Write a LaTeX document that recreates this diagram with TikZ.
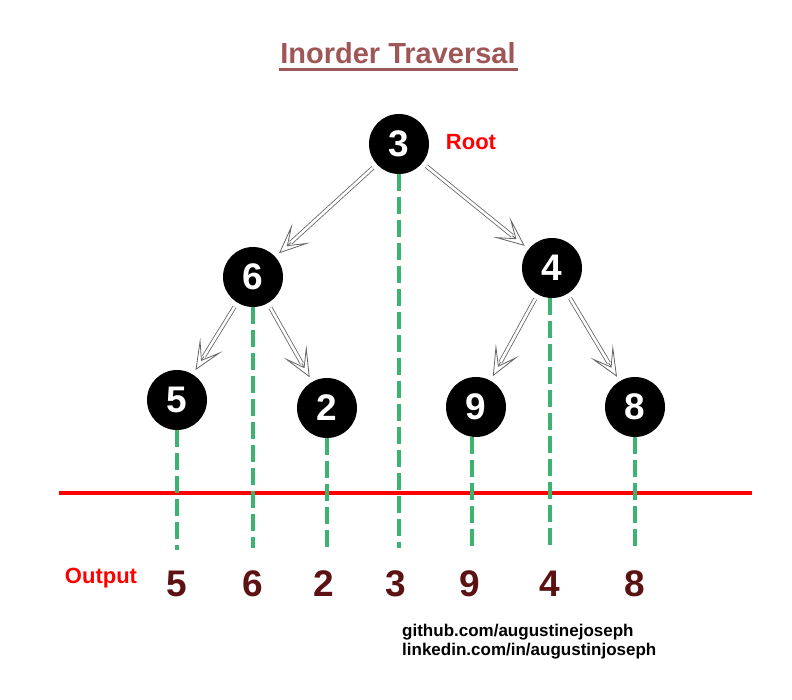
\documentclass[tikz,border=0pt]{standalone}
\usepackage{fontspec}
\setmainfont{Liberation Sans}
\usetikzlibrary{arrows.meta}
\definecolor{titlecol}{RGB}{158,86,86}
\definecolor{outcol}{RGB}{92,18,18}
\definecolor{dashgreen}{RGB}{60,179,113}
\definecolor{arrowgray}{RGB}{100,100,100}
\newcommand\mytreearrow[2]{%
  \draw[tiphead] (#1) -- (#2);
  \draw[tipshaft] (#1) -- (#2);}
\begin{document}
\begin{tikzpicture}[x=1pt,y=-1pt,
  tnode/.style={circle,fill=black,minimum size=60pt,inner sep=0pt,text=white,font=\fontsize{37}{37}\selectfont\bfseries},
  outnum/.style={text=outcol,font=\fontsize{37}{37}\selectfont\bfseries},
  redlabel/.style={text=red,font=\fontsize{22}{22}\selectfont\bfseries},
  footer/.style={font=\fontsize{17}{19}\selectfont\bfseries,align=left,anchor=north west,inner sep=0pt},
  tiphead/.style={draw=arrowgray,line width=0.8pt,
    -{Stealth[open,fill=white,length=30pt,width=26pt,inset=18pt]},shorten >=5pt,shorten <=5pt},
  tipshaft/.style={draw=arrowgray,double=white,double distance=2.6pt,line width=0.8pt,
    shorten >=21pt,shorten <=5pt},
  trace/.style={draw=dashgreen,line width=4pt,dash pattern=on 17pt off 6pt},
  axisline/.style={draw=red,line width=4pt}
]
\useasboundingbox (0,0) rectangle (792,700);
\fill[white] (0,0) rectangle (792,700);
% title
\node (title) at (398,53) {\fontsize{29}{29}\selectfont\bfseries\color{titlecol}Inorder Traversal};
\draw[titlecol,line width=3pt] (279,70) -- (518,70);
% tree nodes
\node[tnode] (n3) at (399,144) {3};
\node[tnode] (n6) at (253,277) {6};
\node[tnode] (n4) at (552,268) {4};
\node[tnode] (n5) at (177,400) {5};
\node[tnode] (n2) at (327,408) {2};
\node[tnode] (n9) at (476,407) {9};
\node[tnode] (n8) at (635,407) {8};
\node[redlabel] (root) at (471,142) {Root};
% arrows
\mytreearrow{n3}{n6}
\mytreearrow{n3}{n4}
\mytreearrow{n6}{n5}
\mytreearrow{n6}{n2}
\mytreearrow{n4}{n9}
\mytreearrow{n4}{n8}
% red line
\coordinate (rl) at (59,493);
\coordinate (rr) at (752,493);
\draw[axisline] (rl) -- (rr);
% traces
\coordinate (e5) at (177,550);
\coordinate (e6) at (253,548);
\coordinate (e2) at (327,548);
\coordinate (e3) at (399,548);
\coordinate (e9) at (472,548);
\coordinate (e4) at (550,548);
\coordinate (e8) at (635,550);
\draw[trace] (177,430) -- (e5);
\draw[trace] (253,307) -- (e6);
\draw[trace] (327,438) -- (e2);
\draw[trace] (399,174) -- (e3);
\draw[trace] (472,437) -- (e9);
\draw[trace] (550,298) -- (e4);
\draw[trace] (635,437) -- (e8);
% output
\node[redlabel] (outlbl) at (101,578) {Output};
\node[outnum] (o5) at (177,584) {5};
\node[outnum] (o6) at (253,584) {6};
\node[outnum] (o2) at (324,584) {2};
\node[outnum] (o3) at (396,584) {3};
\node[outnum] (o9) at (470,584) {9};
\node[outnum] (o4) at (550,584) {4};
\node[outnum] (o8) at (635,584) {8};
% footer
\node[footer] (foot) at (402,624) {github.com/augustinejoseph\\linkedin.com/in/augustinjoseph};
\end{tikzpicture}
\end{document}
